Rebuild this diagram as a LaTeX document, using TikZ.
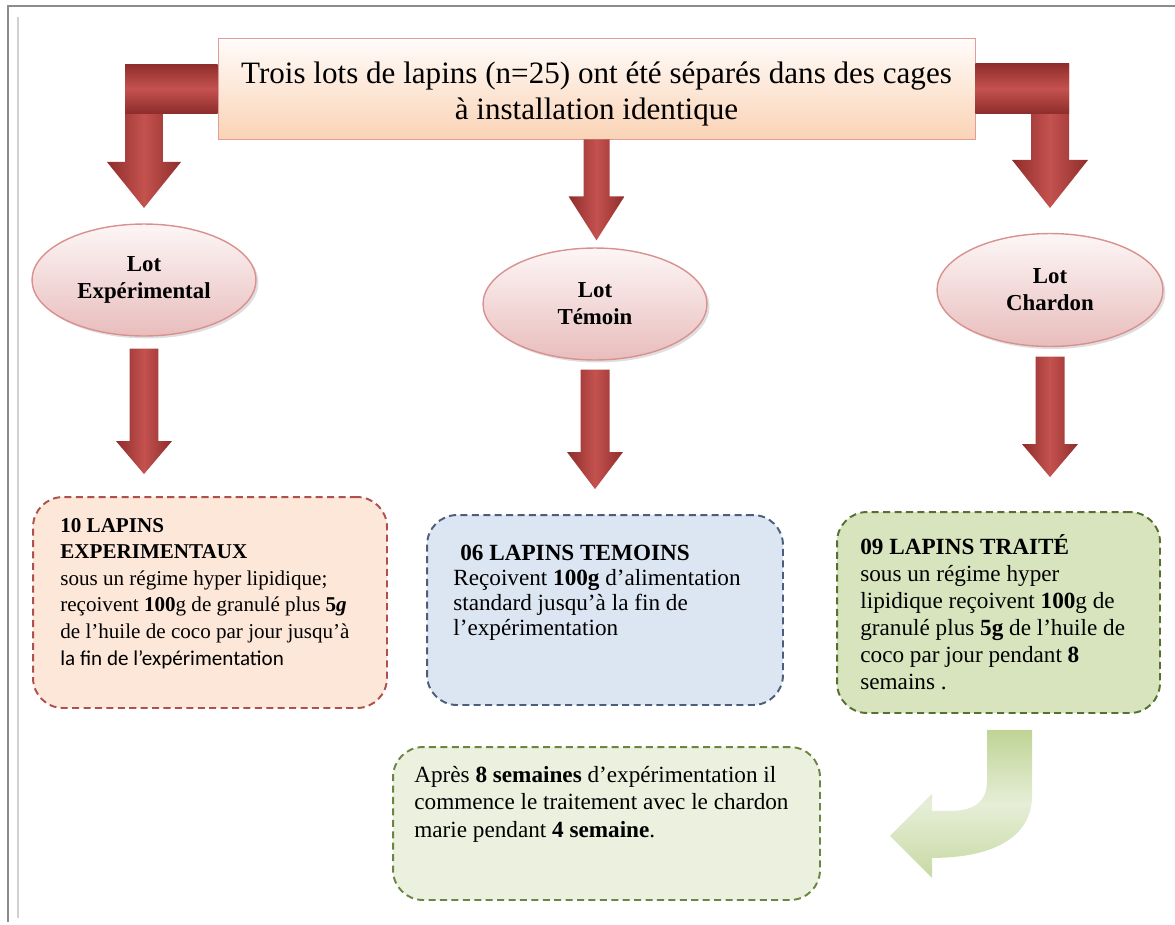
\documentclass[tikz,border=0pt]{standalone}
\usepackage{fontspec}
\setmainfont{Liberation Serif}
\newfontfamily\calibri{Carlito}
\usetikzlibrary{shapes.geometric,shadows,calc}

\definecolor{arrowdark}{HTML}{8E2D2B}
\definecolor{arrowmid}{HTML}{C4524F}
\definecolor{peachtop}{HTML}{FFFCFA}
\definecolor{peachbot}{HTML}{FAD3B5}
\definecolor{peachline}{HTML}{E29C9C}
\definecolor{ovaltop}{HTML}{FDF6F6}
\definecolor{ovalbot}{HTML}{E8BDBC}
\definecolor{ovalline}{HTML}{D99190}
\definecolor{expfill}{HTML}{FCE7D9}
\definecolor{expline}{HTML}{B0504C}
\definecolor{temfill}{HTML}{DCE6F2}
\definecolor{temline}{HTML}{4B5E7C}
\definecolor{chafill}{HTML}{D7E4BD}
\definecolor{chaline}{HTML}{58702F}
\definecolor{apresfill}{HTML}{EBF1DE}
\definecolor{apresline}{HTML}{6A8640}
\definecolor{greenarrow}{HTML}{BFD495}
\definecolor{greenlight}{HTML}{E6EED7}

% fleche rouge verticale : depart, arrivee, ecart haut, ecart bas, hauteur pointe
\newcommand{\flechebas}[5]{%
  \shade[bloc] let \p1=(#1), \p2=(#2) in
    (\x1-0.29cm,\y1-#3) -- (\x1+0.29cm,\y1-#3) -- (\x1+0.29cm,\y2+#4+#5)
    -- (\x1+0.56cm,\y2+#4+#5) -- (\x1,\y2+#4) -- (\x1-0.56cm,\y2+#4+#5)
    -- (\x1-0.29cm,\y2+#4+#5) -- cycle;}

\begin{document}
\begin{tikzpicture}[x=0.02cm,y=-0.02cm]
  \tikzstyle{lot}=[ellipse,draw=ovalline,thick,top color=ovaltop,bottom color=ovalbot,minimum width=4.48cm,minimum height=2.24cm,align=center,font=\fontsize{13}{15.4}\selectfont\bfseries,drop shadow={opacity=0.25,shadow xshift=0.05cm,shadow yshift=-0.05cm}]
  \tikzstyle{lapins}=[rounded corners=0.6cm,dash pattern=on 4pt off 2.5pt,line width=1.1pt,inner sep=0pt]
  \tikzstyle{texte}=[anchor=north west,align=left,inner sep=0pt]
  \tikzstyle{bloc}=[left color=arrowdark,right color=arrowdark,middle color=arrowmid]
  \tikzstyle{bande}=[top color=arrowdark,bottom color=arrowdark,middle color=arrowmid]

  \useasboundingbox (0,0) rectangle (1175,924);
  % cadre
  \draw[black!45,line width=1.2pt] (1175,6) -- (8,6) -- (8,922);
  \draw[black!18,line width=1.2pt] (18,17) -- (18,918);

  \node[draw=peachline,top color=peachtop,bottom color=peachbot,minimum width=15.14cm,minimum height=2.02cm] (lots) at (596.5,88.5) {};
  \node[align=center,font=\fontsize{17.7}{20.6}\selectfont] (titre) at (596.5,94) {Trois lots de lapins (n=25) ont été séparés dans des cages\\à installation identique};

  \node[lot] (exp) at (144,280) {Lot\\Expérimental};
  \node[lot] (tem) at (595,304) {Lot\\Témoin};
  \node[lot,minimum width=4.52cm,minimum height=2.26cm] (cha) at (1050,290) {Lot\\Chardon};

  \node[lapins,draw=expline,fill=expfill,minimum width=7.08cm,minimum height=4.22cm] (bexp) at (210,602.5) {};
  \node[lapins,draw=temline,fill=temfill,minimum width=7.12cm,minimum height=3.8cm] (btem) at (605,610) {};
  \node[lapins,draw=chaline,fill=chafill,minimum width=6.46cm,minimum height=4.02cm] (bcha) at (998.5,612.5) {};
  \node[lapins,draw=apresline,fill=apresfill,minimum width=8.54cm,minimum height=3.06cm] (bapres) at (606.5,823.5) {};

  \node[texte,font=\fontsize{12}{15.1}\selectfont] (texp) at (60,518) {\textbf{10 LAPINS}\\\textbf{EXPERIMENTAUX}\\sous un régime hyper lipidique;\\reçoivent \textbf{100}g de granulé plus \textbf{5\textit{g}}\\de l’huile de coco par jour jusqu’à\\{\calibri la fin de l’expérimentation}};
  \node[texte,font=\fontsize{13.2}{14.2}\selectfont] (ttem) at (453,545) {\hspace{0.14cm}\textbf{06 LAPINS TEMOINS}\\Reçoivent \textbf{100g} d’alimentation\\standard jusqu’à la fin de\\l’expérimentation};
  \node[texte,font=\fontsize{13.2}{15.4}\selectfont] (tcha) at (860,534) {\textbf{09 LAPINS TRAITÉ}\\sous un régime hyper\\lipidique reçoivent \textbf{100}g de\\granulé plus \textbf{5g} de l’huile de\\coco par jour pendant \textbf{8}\\semains .};
  \node[texte,font=\fontsize{13.2}{15.6}\selectfont] (tapres) at (414,766) {Après \textbf{8 semaines} d’expérimentation il\\commence le traitement avec le chardon\\marie pendant \textbf{4 semaine}.};

  % fleches du haut
  \shade[bloc] let \p1=(exp.north), \p2=(lots.west) in
    (\x1-0.38cm,\y2+0.49cm) -- (\x1+0.38cm,\y2+0.49cm) -- (\x1+0.38cm,\y2-1.47cm) -- (\x1+0.74cm,\y2-1.47cm)
    -- (\x1,\y2-2.39cm) -- (\x1-0.74cm,\y2-1.47cm) -- (\x1-0.38cm,\y2-1.47cm) -- cycle;
  \shade[bande] let \p1=(exp.north), \p2=(lots.west) in (\x1-0.38cm,\y2+0.49cm) rectangle (\x2,\y2-0.49cm);
  \shade[bloc] let \p1=(cha.north), \p2=(lots.east) in
    (\x1-0.38cm,\y2+0.5cm) -- (\x1+0.38cm,\y2+0.5cm) -- (\x1+0.38cm,\y2-1.43cm) -- (\x1+0.76cm,\y2-1.43cm)
    -- (\x1,\y2-2.39cm) -- (\x1-0.76cm,\y2-1.43cm) -- (\x1-0.38cm,\y2-1.43cm) -- cycle;
  \shade[bande] let \p1=(cha.north), \p2=(lots.east) in (\x2,\y2+0.5cm) rectangle (\x1+0.38cm,\y2-0.5cm);
  \shade[bloc] let \p1=(lots.south), \p2=(tem.north) in
    (\x1-0.26cm,\y1) -- (\x1+0.26cm,\y1) -- (\x1+0.26cm,\y2+1.02cm) -- (\x1+0.56cm,\y2+1.02cm)
    -- (\x1,\y2+0.14cm) -- (\x1-0.56cm,\y2+1.02cm) -- (\x1-0.26cm,\y2+1.02cm) -- cycle;

  % fleches vers les cages
  \flechebas{exp.south}{bexp.north}{0.24cm}{0.44cm}{0.66cm}
  \flechebas{tem.south}{btem.north}{0.18cm}{0.5cm}{0.74cm}
  \flechebas{cha.south}{bcha.north}{0.19cm}{0.68cm}{0.66cm}

  % fleche courbe verte
  \shade[top color=greenarrow,bottom color=greenarrow!80!greenlight,middle color=greenlight] let \p1=(bcha.south) in
    (\x1-0.23cm,\y1-0.32cm) -- (\x1+0.67cm,\y1-0.32cm) -- (\x1+0.67cm,\y1-1.64cm)
    .. controls (\x1+0.67cm,\y1-2.44cm) and (\x1-0.07cm,\y1-2.88cm) .. (\x1-1.33cm,\y1-2.88cm)
    -- (\x1-1.33cm,\y1-3.28cm) -- (\x1-2.17cm,\y1-2.44cm) -- (\x1-1.33cm,\y1-1.6cm) -- (\x1-1.33cm,\y1-1.94cm)
    -- (\x1-0.97cm,\y1-1.94cm) .. controls (\x1-0.47cm,\y1-1.94cm) and (\x1-0.23cm,\y1-1.74cm) .. (\x1-0.23cm,\y1-1.34cm) -- cycle;
\end{tikzpicture}
\end{document}
